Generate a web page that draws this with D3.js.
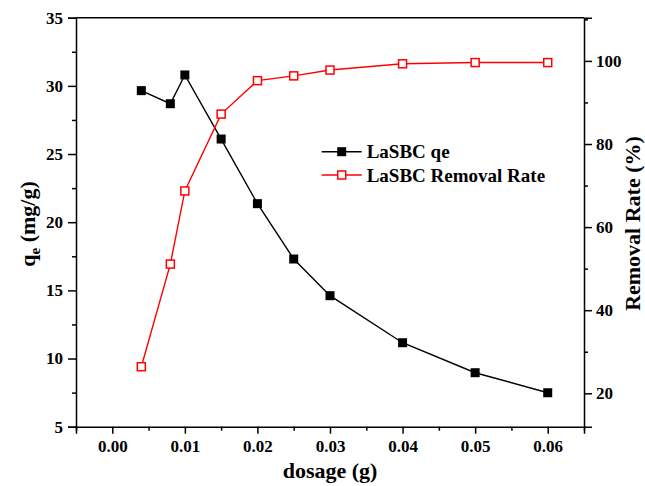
<!DOCTYPE html>
<html>
<head>
<meta charset="utf-8">
<script src="https://cdn.jsdelivr.net/npm/d3@7"></script>
<style>
  html, body { margin: 0; padding: 0; background: #fff; }
  svg { display: block; }
  text { font-family: "Liberation Serif", "Times New Roman", serif; font-weight: bold; fill: #000; }
</style>
</head>
<body>
<svg id="chart" width="645" height="486"></svg>
<script>
// ---- data ----
const dosage = [0.004, 0.008, 0.01, 0.015, 0.02, 0.025, 0.03, 0.04, 0.05, 0.06];
const qe = [29.65, 28.69, 30.8, 26.1, 21.36, 17.3, 14.61, 11.16, 8.96, 7.49];
const removalRate = [26.4, 51.1, 68.7, 87.2, 95.25, 96.4, 97.8, 99.3, 99.6, 99.6];
const xTicks = [0.00, 0.01, 0.02, 0.03, 0.04, 0.05, 0.06];
const yLeftTicks = [5, 10, 15, 20, 25, 30, 35];
const yRightTicks = [20, 40, 60, 80, 100];
const seriesNames = ["LaSBC qe", "LaSBC Removal Rate"];

// ---- layout ----
const W = 645, H = 486;
const m = { left: 76, right: 61, top: 17.7, bottom: 59.3 };
const svg = d3.select("#chart");
const x = d3.scaleLinear().domain([-0.005, 0.065]).range([m.left, W - m.right]);
const yL = d3.scaleLinear().domain([5, 35]).range([H - m.bottom, m.top]);
const yR = d3.scaleLinear().domain([11.96, 110.4]).range([H - m.bottom, m.top]);

const tickFont = 17;

// minor ticks
const xMinor = d3.range(-0.005, 0.0651, 0.01);
const yLMinor = d3.range(7.5, 35, 5);
const yRMinor = d3.range(30, 111, 20);

function styleAxis(g) {
  g.selectAll("path").attr("stroke", "#000").attr("stroke-width", 1.5);
  g.selectAll("line").attr("stroke", "#000").attr("stroke-width", 1.5);
  g.selectAll("text").style("font-size", tickFont + "px");
}

// bottom axis
const gx = svg.append("g").attr("transform", `translate(0,${H - m.bottom})`)
  .call(d3.axisBottom(x).tickValues(xTicks).tickFormat(d3.format(".2f")).tickSizeOuter(0).tickSize(7).tickPadding(6));
styleAxis(gx);
svg.append("g").attr("transform", `translate(0,${H - m.bottom})`)
  .call(d3.axisBottom(x).tickValues(xMinor).tickFormat("").tickSize(4).tickSizeOuter(0))
  .call(g => { g.select("path").remove(); g.selectAll("line").attr("stroke", "#000").attr("stroke-width", 1.5); });

// top line
svg.append("line").attr("x1", m.left).attr("x2", W - m.right).attr("y1", m.top).attr("y2", m.top)
  .attr("stroke", "#000").attr("stroke-width", 1.5);

// left axis
const gyl = svg.append("g").attr("transform", `translate(${m.left},0)`)
  .call(d3.axisLeft(yL).tickValues(yLeftTicks).tickSizeOuter(0).tickSize(8).tickPadding(5));
styleAxis(gyl);
svg.append("g").attr("transform", `translate(${m.left},0)`)
  .call(d3.axisLeft(yL).tickValues(yLMinor).tickFormat("").tickSize(4).tickSizeOuter(0))
  .call(g => { g.select("path").remove(); g.selectAll("line").attr("stroke", "#000").attr("stroke-width", 1.5); });

// right axis
const gyr = svg.append("g").attr("transform", `translate(${W - m.right},0)`)
  .call(d3.axisRight(yR).tickValues(yRightTicks).tickSizeOuter(0).tickSize(8).tickPadding(4));
styleAxis(gyr);
svg.append("g").attr("transform", `translate(${W - m.right},0)`)
  .call(d3.axisRight(yR).tickValues(yRMinor).tickFormat("").tickSize(4).tickSizeOuter(0))
  .call(g => { g.select("path").remove(); g.selectAll("line").attr("stroke", "#000").attr("stroke-width", 1.5); });

// axis titles
svg.append("text").attr("x", (m.left + W - m.right) / 2).attr("y", 478)
  .attr("text-anchor", "middle").style("font-size", "22px").text("dosage (g)");

const lt = svg.append("text").attr("transform", `translate(35,224) rotate(-90)`)
  .attr("text-anchor", "middle").style("font-size", "22px");
lt.append("tspan").text("q");
lt.append("tspan").attr("dy", 5).style("font-size", "15px").text("e");
lt.append("tspan").attr("dy", -5).text(" (mg/g)");

svg.append("text").attr("transform", `translate(640,223.5) rotate(-90)`)
  .attr("text-anchor", "middle").style("font-size", "22px").text("Removal Rate (%)");

// series
const data = dosage.map((d, i) => ({ x: d, q: qe[i], r: removalRate[i] }));
const lineQ = d3.line().x(d => x(d.x)).y(d => yL(d.q));
const lineR = d3.line().x(d => x(d.x)).y(d => yR(d.r));

svg.append("path").datum(data).attr("d", lineQ).attr("fill", "none").attr("stroke", "#000").attr("stroke-width", 1.4);
svg.append("path").datum(data).attr("d", lineR).attr("fill", "none").attr("stroke", "#ff0000").attr("stroke-width", 1.4);

const s = 9;
svg.selectAll(".mq").data(data).enter().append("rect")
  .attr("x", d => x(d.x) - s / 2).attr("y", d => yL(d.q) - s / 2)
  .attr("width", s).attr("height", s).attr("fill", "#000");
const s2 = 8;
svg.selectAll(".mr").data(data).enter().append("rect")
  .attr("x", d => x(d.x) - s2 / 2).attr("y", d => yR(d.r) - s2 / 2)
  .attr("width", s2).attr("height", s2).attr("fill", "#fff").attr("stroke", "#ff0000").attr("stroke-width", 1.5);

// legend
const leg = svg.append("g");
const legRows = [
  { name: seriesNames[0], color: "#000", filled: true, y: 151.7 },
  { name: seriesNames[1], color: "#ff0000", filled: false, y: 175 }
];
legRows.forEach(r => {
  leg.append("line").attr("x1", 321.7).attr("x2", 361.7).attr("y1", r.y).attr("y2", r.y)
    .attr("stroke", r.color).attr("stroke-width", 1.4);
  if (r.filled) {
    leg.append("rect").attr("x", 341.7 - s / 2).attr("y", r.y - s / 2).attr("width", s).attr("height", s).attr("fill", "#000");
  } else {
    leg.append("rect").attr("x", 341.7 - s2 / 2).attr("y", r.y - s2 / 2).attr("width", s2).attr("height", s2)
      .attr("fill", "#fff").attr("stroke", r.color).attr("stroke-width", 1.5);
  }
  leg.append("text").attr("x", 366.7).attr("y", r.y).attr("dy", "0.35em").style("font-size", "19px").text(r.name);
});
</script>
</body>
</html>
